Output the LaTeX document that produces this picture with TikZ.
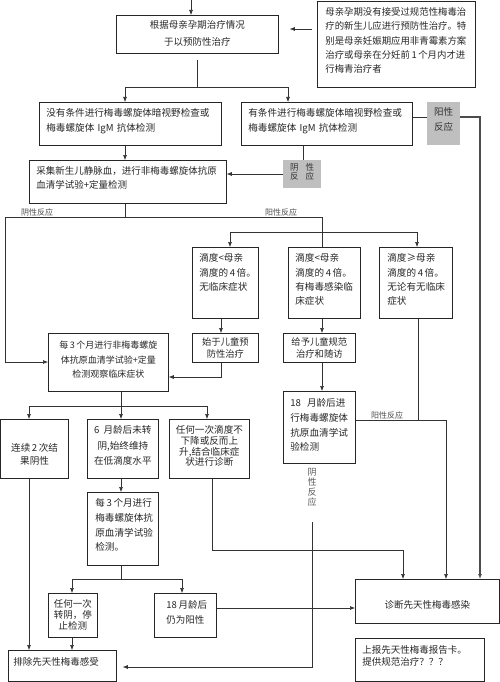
\documentclass[tikz,border=0pt]{standalone}
\usepackage{fontspec}
\newfontfamily\cjk{Noto Sans CJK SC}
\usetikzlibrary{arrows.meta}
\newcommand\myfs[2]{\cjk\fontsize{#1}{#2}\selectfont}
\tikzset{
  bx/.code n args={4}{%
    \pgfmathsetmacro\bxtw{#1-2*(#3)}%
    \pgfmathsetmacro\bxtd{#2-(#4)}%
    \edef\bxtmp{\noexpand\pgfkeysalso{/tikz/minimum width=#1pt,/tikz/minimum height=#2pt,/tikz/inner xsep=#3pt,/tikz/text width=\bxtw pt,/tikz/inner ysep=0pt,/tikz/text height=#4pt,/tikz/text depth=\bxtd pt}}%
    \bxtmp},
  box/.style={draw=black!85, line width=0.75pt, anchor=north west, text=black!85},
  graybox/.style={fill=black!25, draw=none, anchor=north west, text=black!80},
  ln/.style={draw=black!80, line width=0.6pt},
  arr/.style={ln, -{Latex[length=5pt,width=4pt]}},
  thickarr/.style={draw=black!70, line width=1.3pt, -{Latex[length=5pt,width=4pt]}},
  lab/.style={inner sep=0pt, font=\myfs{8}{9}, text=black!70},
}
\begin{document}
\begin{tikzpicture}[x=1pt,y=-1pt]
\useasboundingbox (0,0) rectangle (500,682);
% boxes
\node[box, bx={162}{38}{4}{13.5}, align=center, font=\myfs{9.5}{16.5}] (top) at (116,15) {根据母亲孕期治疗情况\\于以预防性治疗};
\node[box, bx={158}{86}{8}{14.2}, align=left, font=\myfs{9.4}{14.3}] (note) at (317,1) {母亲孕期没有接受过规范性梅毒治\\疗的新生儿应进行预防性治疗。特\\别是母亲妊娠期应用非青霉素方案\\治疗或母亲在分妊前\,1\,个月内才进\\行梅青治疗者};
\node[box, bx={182}{43}{7}{14.5}, align=left, font=\myfs{9.6}{15}] (A) at (39,102) {没有条件进行梅毒螺旋体暗视野检查或\\梅毒螺旋体~IgM~抗体检测};
\node[box, bx={171}{43}{7}{14.5}, align=left, font=\myfs{9.6}{15}] (B) at (241,102) {有条件进行梅毒螺旋体暗视野检查或\\梅毒螺旋体~IgM~抗体检测};
\node[graybox, bx={33}{43}{1}{13.5}, align=center, font=\myfs{9.5}{15}] (pos1) at (427,102) {阳性\\反应};
\node[box, bx={197}{43}{7}{14.5}, align=left, font=\myfs{9.5}{14}] (C) at (29,160) {采集新生儿静脉血，进行非梅毒螺旋体抗原\\血清学试验+定量检测};
\node[graybox, bx={38}{28}{1}{10}, align=center, font=\myfs{8.5}{9.5}] (neg1) at (283,160) {阴\hspace{7pt}性\\反\hspace{7pt}应};
\node[box, bx={66}{71}{7}{14.5}, align=left, font=\myfs{9.6}{14.5}] (D1) at (192,247) {滴度<母亲\\滴度的\,4\,倍。\\无临床症状};
\node[box, bx={72}{71}{7}{14.5}, align=left, font=\myfs{9.6}{14.2}] (D2) at (288,247) {滴度<母亲\\滴度的\,4\,倍。\\有梅毒感染临\\床症状};
\node[box, bx={73}{71}{8}{14.5}, align=left, font=\myfs{9.6}{14.2}] (D3) at (379,247) {滴度≥母亲\\滴度的\,4\,倍。\\无论有无临床\\症状};
\node[box, bx={120}{58}{3}{15.5}, align=center, font=\myfs{9}{14.5}] (E) at (48,333) {每\,3\,个月进行非梅毒螺旋\\体抗原血清学试验+定量\\检测观察临床症状};
\node[box, bx={66}{29}{2}{12.5}, align=center, font=\myfs{9.3}{11.6}] (F1) at (192,333) {始于儿童预\\防性治疗};
\node[box, bx={72}{29}{2}{12.5}, align=center, font=\myfs{9.3}{11.6}] (F2) at (283,333) {给予儿童规范\\治疗和随访};
\node[box, bx={72}{72}{7}{15.5}, align=left, font=\myfs{9.6}{14.7}] (G) at (283,391) {18\hspace{6pt}月龄后进\\行梅毒螺旋体\\抗原血清学试\\验检测};
\node[box, bx={67.5}{59}{2}{32.5}, align=center, font=\myfs{9.6}{13}] (H1) at (0.5,419) {连续\,2\,次结\\果阴性};
\node[box, bx={71}{59}{2}{14.5}, align=center, font=\myfs{9.6}{15.3}] (H2) at (87,419) {6\hspace{4pt}月龄后未转\\阴,始终维持\\在低滴度水平};
\node[box, bx={80}{59}{2}{14.5}, align=center, font=\myfs{9.6}{10.6}] (H3) at (169,419) {任何一次滴度不\\下降或反而上\\升,结合临床症\\状进行诊断};
\node[box, bx={71}{73}{8}{14.5}, align=left, font=\myfs{9.6}{14.7}] (I) at (87,492) {每\,3\,个月进行\\梅毒螺旋体抗\\原血清学试验\\检测。};
\node[box, bx={49}{44}{1}{13.8}, align=center, font=\myfs{9.5}{11}] (J1) at (48,593) {任何一次\\转阴，停\\止检测};
\node[box, bx={62}{44}{12}{15.5}, align=left, font=\myfs{9.5}{15}] (J2) at (154,593) {18\,月龄后\\仍为阳性};
\node[box, bx={144}{44}{4}{29.5}, align=center, font=\myfs{9.5}{14}] (K) at (355,579) {诊断先天性梅毒感染};
\node[box, bx={108}{31}{5}{15.5}, align=left, font=\myfs{9.5}{14}] (L) at (8,650) {排除先天性梅毒感受};
\node[box, bx={129}{43}{7}{15.5}, align=left, font=\myfs{9.5}{11.7}] (M) at (355,638) {上报先天性梅毒报告卡。\\提供规范治疗？？？};
% labels
\node[lab] (l1) at (37,212) {阴性反应};
\node[lab] (l2) at (281,212) {阳性反应};
\node[lab] (l3) at (387,415) {阳性反应};
\node[inner sep=0pt, align=center, font=\myfs{9}{10}, text=black!65] (vl) at (312,487) {阴\\性\\反\\应};
% connectors
\coordinate (c0) at (191,0);
\draw[arr] (c0) -- (top.north -| c0);
\draw[arr] ([xshift=-5pt]note.west |- 0,29) -- ([xshift=11pt]top.east |- 0,29);
\coordinate (j1) at (197,87);
\draw[ln] ([yshift=-6pt]top.south -| j1) -- (j1);
\draw[arr] (j1) -| (A.north -| 125,0);
\draw[arr] (j1) -| (B.north -| 288,0);
\draw[ln] (B.east |- 0,117) -- (pos1.west |- 0,117);
\draw[thickarr] (pos1.east |- 0,117) -| (K.north -| 480,0);
\draw[ln] (B.south -| 303,0) -- (neg1.north -| 303,0);
\draw[arr] (neg1.west |- 0,174) -- (C.east |- 0,174);
\draw[arr] (A.south -| 125,0) -- (C.north -| 125,0);
\coordinate (j2) at (125,217);
\draw[ln] (C.south -| j2) -- (j2);
\draw[arr] (j2) -| (5,362) -- (E.west |- 0,362);
\draw[ln] (j2) -| (D2.north -| 322,0);
\coordinate (j3) at (322,232);
\draw[arr] (j3) -| (D1.north -| 230,0);
\draw[arr] (j3) -| (D3.north -| 417,0);
\draw[arr] (D1.south -| 221,0) -- (F1.north -| 221,0);
\draw[arr] (F1.south -| 221,0) |- (E.east |- 0,377);
\draw[arr] (D2.south -| 322,0) -- (F2.north -| 322,0);
\draw[arr] (F2.south -| 322,0) -- (G.north -| 322,0);
\coordinate (j4) at (418,420);
\draw[arr] (G.east |- j4) -| (K.north -| 446,0);
\draw[ln] (D3.south -| j4) -- (j4);
\coordinate (j5) at (121,406);
\draw[ln] (E.south -| j5) -- (j5);
\draw[arr] (j5) -| (H1.north -| 29,0);
\draw[arr] (j5) -- (H2.north -| j5);
\draw[arr] (j5) -| (H3.north -| 207,0);
\draw[arr] (H1.south -| 29,0) -- (L.north -| 29,0);
\draw[arr] (H2.south -| 121,0) -- (I.north -| 121,0);
\draw[arr] (H3.south -| 212,0) |- (403,550) -- (K.north -| 403,0);
\coordinate (j6) at (121,579);
\draw[ln] (I.south -| j6) -- (j6);
\draw[arr] (j6) -| (J1.north -| 72,0);
\draw[arr] (j6) -| (J2.north -| 182,0);
\draw[arr] (J1.south -| 72,0) -- (L.north -| 72,0);
\draw[arr] (J2.east |- 0,608) -- (K.west |- 0,608);
\coordinate (v0) at (312,522);
\draw[arr] (v0) |- ([xshift=6pt]L.east |- 0,667);
\end{tikzpicture}
\end{document}
